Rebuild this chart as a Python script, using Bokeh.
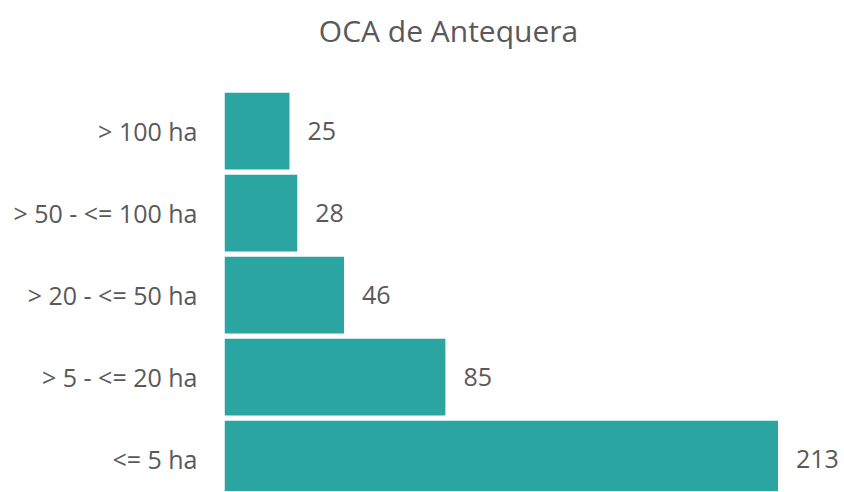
from bokeh.plotting import figure
from bokeh.models import ColumnDataSource, Range1d, FixedTicker, Label
from bokeh.embed import file_html
from bokeh.resources import INLINE
from bokeh.core.properties import value

categories = ["<= 5 ha", "> 5 - <= 20 ha", "> 20 - <= 50 ha", "> 50 - <= 100 ha", "> 100 ha"]
values = [213, 85, 46, 28, 25]
title_text = "OCA de Antequera"

positions = list(range(len(categories)))
src = ColumnDataSource(dict(y=positions, v=values, lbl=[str(v) for v in values]))

FONT = "Open Sans"
GRAY = "#595959"
TEAL = "#2AA5A2"

p = figure(width=843, height=491, output_backend="svg", toolbar_location=None,
           x_range=Range1d(0, 238.2), y_range=Range1d(-0.394, 5.594),
           x_axis_location=None, y_axis_location="left",
           min_border_left=224, min_border_right=0, min_border_top=0, min_border_bottom=0)

p.hbar(y="y", right="v", left=0, height=0.935, source=src, fill_color=TEAL, line_color=None)
p.text(x="v", y="y", text="lbl", source=src, x_offset=18, text_baseline="middle",
       text_align="left", text_font=value(FONT), text_font_size="25px", text_color=GRAY)

ax = p.yaxis[0]
ax.ticker = FixedTicker(ticks=positions)
ax.major_label_overrides = {i: c for i, c in zip(positions, categories)}
ax.axis_line_color = None
ax.major_tick_line_color = None
ax.minor_tick_line_color = None
ax.major_tick_out = 0
ax.major_tick_in = 0
ax.major_label_standoff = 27
ax.major_label_text_font = FONT
ax.major_label_text_font_size = "25px"
ax.major_label_text_color = GRAY

p.xgrid.visible = False
p.ygrid.visible = False
p.outline_line_color = None

title = Label(text=title_text, x=86.2, y=5.228, x_units="data", y_units="data",
              text_align="center", text_baseline="alphabetic",
              text_font=FONT, text_font_size="30px", text_color=GRAY)
p.add_layout(title)

open("out.html", "w").write(file_html(p, INLINE))
